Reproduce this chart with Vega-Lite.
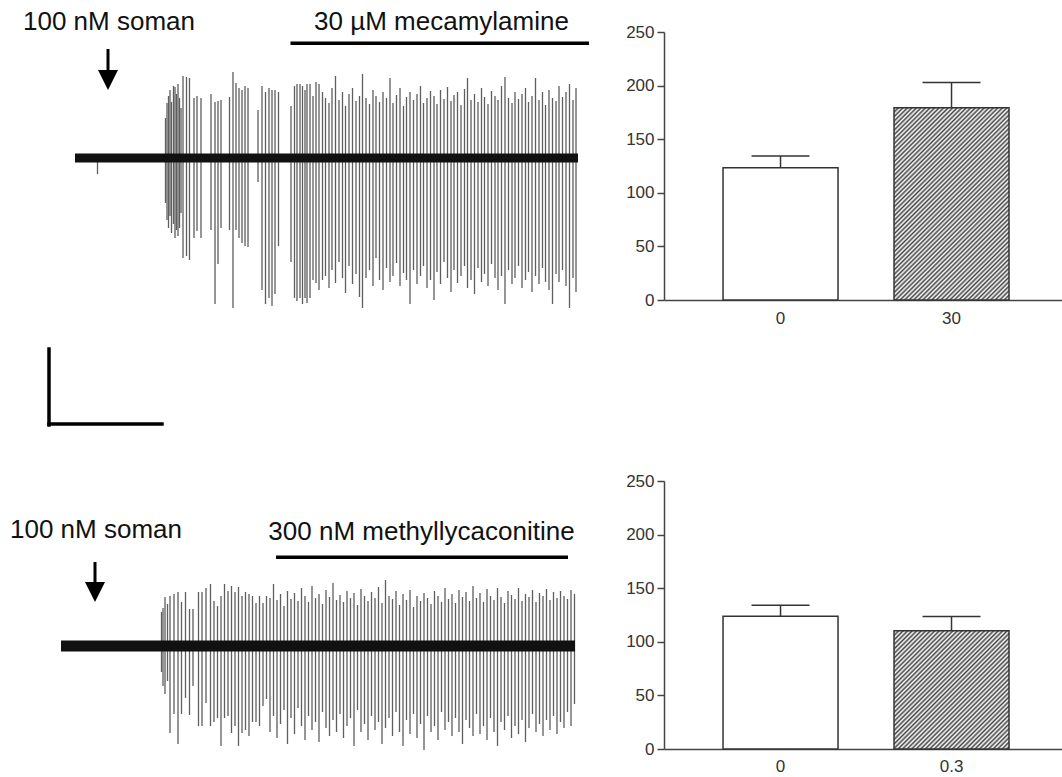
{
"$schema":"https://vega.github.io/schema/vega-lite/v6.json",
"padding":{"left":0,"top":9,"right":0,"bottom":0},
"spacing":20,
"config":{"font":"Liberation Sans","view":{"stroke":null}},
"datasets":{
"trace1":[{"t":4.5,"hi":3,"lo":-16},{"t":18.1,"hi":40,"lo":-45},{"t":18.4,"hi":55,"lo":-62},{"t":18.7,"hi":62,"lo":-70},{"t":19.0,"hi":68,"lo":-58},{"t":19.3,"hi":56,"lo":-75},{"t":19.7,"hi":72,"lo":-66},{"t":20.0,"hi":71,"lo":-80},{"t":20.3,"hi":64,"lo":-72},{"t":20.6,"hi":74,"lo":-78},{"t":20.9,"hi":60,"lo":-70},{"t":21.2,"hi":50,"lo":-55},{"t":21.6,"hi":82,"lo":-100},{"t":22.3,"hi":81,"lo":-98},{"t":22.9,"hi":80,"lo":-102},{"t":23.8,"hi":60,"lo":-80},{"t":24.4,"hi":62,"lo":-73},{"t":25.2,"hi":60,"lo":-80},{"t":27.2,"hi":64,"lo":-72},{"t":28.0,"hi":56,"lo":-146},{"t":28.6,"hi":57,"lo":-106},{"t":29.2,"hi":58,"lo":-70},{"t":30.9,"hi":61,"lo":-72},{"t":31.6,"hi":86,"lo":-150},{"t":32.2,"hi":75,"lo":-72},{"t":32.8,"hi":70,"lo":-80},{"t":33.4,"hi":68,"lo":-85},{"t":34.0,"hi":72,"lo":-88},{"t":34.6,"hi":70,"lo":-89},{"t":36.6,"hi":48,"lo":-24},{"t":37.4,"hi":72,"lo":-132},{"t":38.1,"hi":66,"lo":-146},{"t":38.8,"hi":70,"lo":-140},{"t":39.4,"hi":68,"lo":-148},{"t":40.0,"hi":68,"lo":-136},{"t":40.7,"hi":66,"lo":-88},{"t":43.2,"hi":52,"lo":-104},{"t":43.9,"hi":72,"lo":-140},{"t":44.4,"hi":74,"lo":-143},{"t":45.0,"hi":74,"lo":-140},{"t":45.5,"hi":72,"lo":-146},{"t":46.0,"hi":68,"lo":-140},{"t":46.4,"hi":74,"lo":-145},{"t":47.0,"hi":74,"lo":-140},{"t":47.6,"hi":62,"lo":-122},{"t":48.2,"hi":76,"lo":-125},{"t":48.8,"hi":74,"lo":-132},{"t":49.5,"hi":66,"lo":-122},
{"t":50.1,"hi":60,"lo":-118},{"t":50.8,"hi":55,"lo":-130},{"t":51.4,"hi":70,"lo":-112},{"t":52.1,"hi":82,"lo":-125},{"t":52.8,"hi":58,"lo":-104},{"t":53.5,"hi":66,"lo":-120},{"t":54.1,"hi":52,"lo":-135},{"t":54.8,"hi":64,"lo":-108},{"t":55.5,"hi":70,"lo":-126},{"t":56.2,"hi":57,"lo":-116},{"t":56.9,"hi":62,"lo":-139},{"t":57.5,"hi":84,"lo":-150},{"t":58.2,"hi":60,"lo":-120},{"t":58.9,"hi":54,"lo":-112},{"t":59.6,"hi":68,"lo":-128},{"t":60.2,"hi":62,"lo":-100},{"t":60.9,"hi":56,"lo":-122},{"t":61.6,"hi":66,"lo":-132},{"t":62.3,"hi":60,"lo":-110},{"t":63.0,"hi":80,"lo":-124},{"t":63.6,"hi":55,"lo":-118},{"t":64.3,"hi":63,"lo":-105},{"t":65.0,"hi":70,"lo":-128},{"t":65.7,"hi":52,"lo":-115},{"t":66.3,"hi":61,"lo":-122},{"t":67.0,"hi":66,"lo":-146},{"t":67.7,"hi":58,"lo":-112},{"t":68.4,"hi":64,"lo":-126},{"t":69.1,"hi":72,"lo":-118},{"t":69.7,"hi":55,"lo":-108},{"t":70.4,"hi":60,"lo":-130},{"t":71.1,"hi":67,"lo":-122},{"t":71.8,"hi":62,"lo":-142},{"t":72.4,"hi":54,"lo":-114},{"t":73.1,"hi":68,"lo":-126},{"t":73.8,"hi":59,"lo":-104},{"t":74.5,"hi":71,"lo":-120},{"t":75.2,"hi":57,"lo":-134},{"t":75.8,"hi":63,"lo":-112},{"t":76.5,"hi":66,"lo":-125},{"t":77.2,"hi":53,"lo":-118},{"t":77.9,"hi":69,"lo":-108},{"t":78.5,"hi":80,"lo":-130},{"t":79.2,"hi":58,"lo":-122},{"t":79.9,"hi":64,"lo":-136},{"t":80.6,"hi":56,"lo":-110},{"t":81.3,"hi":70,"lo":-124},{"t":81.9,"hi":61,"lo":-116},{"t":82.6,"hi":54,"lo":-128},{"t":83.3,"hi":67,"lo":-106},{"t":84.0,"hi":62,"lo":-120},{"t":84.6,"hi":58,"lo":-132},{"t":85.3,"hi":72,"lo":-118},{"t":86.0,"hi":81,"lo":-146},{"t":86.7,"hi":60,"lo":-112},{"t":87.4,"hi":55,"lo":-126},{"t":88.0,"hi":66,"lo":-120},{"t":88.7,"hi":59,"lo":-108},{"t":89.4,"hi":64,"lo":-130},{"t":90.1,"hi":70,"lo":-122},{"t":90.7,"hi":56,"lo":-114},{"t":91.4,"hi":62,"lo":-134},{"t":92.1,"hi":80,"lo":-118},{"t":92.8,"hi":58,"lo":-126},{"t":93.5,"hi":66,"lo":-110},{"t":94.1,"hi":53,"lo":-124},{"t":94.8,"hi":68,"lo":-132},{"t":95.5,"hi":60,"lo":-146},{"t":96.2,"hi":57,"lo":-116},{"t":96.8,"hi":72,"lo":-124},{"t":97.5,"hi":61,"lo":-112},{"t":98.2,"hi":66,"lo":-128},{"t":98.9,"hi":74,"lo":-150},{"t":99.6,"hi":58,"lo":-120},{"t":100.2,"hi":70,"lo":-134}],
"trace2":[{"t":20.3,"hi":34,"lo":-26},{"t":20.6,"hi":38,"lo":-40},{"t":21.0,"hi":49,"lo":-48},{"t":21.5,"hi":42,"lo":-35},{"t":22.0,"hi":50,"lo":-87},{"t":22.8,"hi":52,"lo":-68},{"t":23.6,"hi":54,"lo":-98},{"t":24.3,"hi":44,"lo":-68},{"t":25.1,"hi":54,"lo":-52},{"t":25.9,"hi":37,"lo":-69},{"t":26.6,"hi":37,"lo":-40},{"t":27.7,"hi":54,"lo":-80},{"t":28.4,"hi":54,"lo":-80},{"t":29.2,"hi":58,"lo":-57},{"t":30.1,"hi":62,"lo":-80},{"t":30.8,"hi":45,"lo":-76},{"t":31.5,"hi":40,"lo":-72},{"t":32.2,"hi":50,"lo":-100},{"t":32.9,"hi":62,"lo":-72},{"t":33.6,"hi":55,"lo":-70},{"t":34.3,"hi":60,"lo":-87},{"t":35.0,"hi":54,"lo":-80},{"t":35.7,"hi":59,"lo":-100},{"t":36.4,"hi":50,"lo":-87},{"t":37.1,"hi":54,"lo":-84},{"t":37.8,"hi":52,"lo":-90},{"t":38.5,"hi":50,"lo":-76},{"t":39.2,"hi":43,"lo":-76},{"t":39.9,"hi":50,"lo":-80},{"t":40.6,"hi":43,"lo":-60},{"t":41.3,"hi":50,"lo":-53},{"t":42.0,"hi":48,"lo":-86},{"t":42.7,"hi":62,"lo":-70},{"t":43.4,"hi":46,"lo":-92},{"t":44.1,"hi":52,"lo":-78},{"t":44.8,"hi":40,"lo":-64},{"t":45.5,"hi":55,"lo":-98},{"t":46.2,"hi":47,"lo":-72},{"t":46.9,"hi":53,"lo":-88},{"t":47.6,"hi":45,"lo":-62},{"t":48.3,"hi":58,"lo":-80},{"t":49.0,"hi":50,"lo":-94},{"t":49.7,"hi":44,"lo":-70},{"t":50.4,"hi":60,"lo":-84},{"t":51.1,"hi":48,"lo":-76},{"t":51.8,"hi":52,"lo":-96},{"t":52.5,"hi":42,"lo":-66},{"t":53.2,"hi":56,"lo":-82},{"t":53.9,"hi":49,"lo":-90},{"t":54.6,"hi":63,"lo":-74},{"t":55.3,"hi":46,"lo":-86},{"t":56.0,"hi":51,"lo":-68},{"t":56.7,"hi":44,"lo":-92},{"t":57.4,"hi":55,"lo":-80},{"t":58.1,"hi":48,"lo":-72},{"t":58.8,"hi":53,"lo":-100},{"t":59.5,"hi":41,"lo":-64},{"t":60.2,"hi":57,"lo":-86},{"t":60.9,"hi":50,"lo":-78},{"t":61.6,"hi":45,"lo":-94},{"t":62.3,"hi":54,"lo":-70},{"t":63.0,"hi":48,"lo":-84},{"t":63.7,"hi":59,"lo":-76},{"t":64.4,"hi":43,"lo":-98},{"t":65.1,"hi":66,"lo":-82},{"t":65.8,"hi":50,"lo":-72},{"t":66.5,"hi":47,"lo":-90},{"t":67.2,"hi":55,"lo":-66},{"t":67.9,"hi":41,"lo":-86},{"t":68.6,"hi":52,"lo":-100},{"t":69.3,"hi":46,"lo":-74},{"t":70.0,"hi":56,"lo":-88},{"t":70.7,"hi":39,"lo":-68},{"t":71.4,"hi":50,"lo":-92},{"t":72.1,"hi":45,"lo":-78},{"t":72.8,"hi":53,"lo":-104},{"t":73.5,"hi":48,"lo":-70},{"t":74.2,"hi":42,"lo":-86},{"t":74.9,"hi":55,"lo":-80},{"t":75.6,"hi":50,"lo":-94},{"t":76.3,"hi":44,"lo":-66},{"t":77.0,"hi":58,"lo":-84},{"t":77.7,"hi":47,"lo":-76},{"t":78.4,"hi":52,"lo":-90},{"t":79.1,"hi":43,"lo":-72},{"t":79.8,"hi":56,"lo":-86},{"t":80.5,"hi":49,"lo":-98},{"t":81.2,"hi":54,"lo":-74},{"t":81.9,"hi":45,"lo":-82},{"t":82.6,"hi":60,"lo":-90},{"t":83.3,"hi":48,"lo":-68},{"t":84.0,"hi":53,"lo":-88},{"t":84.7,"hi":44,"lo":-80},{"t":85.4,"hi":57,"lo":-94},{"t":86.1,"hi":50,"lo":-72},{"t":86.8,"hi":46,"lo":-86},{"t":87.5,"hi":58,"lo":-100},{"t":88.2,"hi":49,"lo":-76},{"t":88.9,"hi":43,"lo":-84},{"t":89.6,"hi":55,"lo":-70},{"t":90.3,"hi":51,"lo":-92},{"t":91.0,"hi":47,"lo":-80},{"t":91.7,"hi":58,"lo":-88},{"t":92.4,"hi":45,"lo":-74},{"t":93.1,"hi":52,"lo":-96},{"t":93.8,"hi":49,"lo":-82},{"t":94.5,"hi":56,"lo":-68},{"t":95.2,"hi":44,"lo":-86},{"t":95.9,"hi":53,"lo":-78},{"t":96.6,"hi":50,"lo":-90},{"t":97.3,"hi":57,"lo":-74},{"t":98.0,"hi":46,"lo":-84},{"t":98.7,"hi":54,"lo":-70},{"t":99.4,"hi":48,"lo":-88},{"t":100.1,"hi":55,"lo":-76},{"t":100.8,"hi":50,"lo":-82},{"t":101.5,"hi":47,"lo":-66},{"t":102.2,"hi":56,"lo":-80},{"t":102.9,"hi":52,"lo":-58}],
"base1":[{"start":0,"end":100.6,"amp":0}],
"base2":[{"start":0.2,"end":103.0,"amp":0}],
"drug1":[{"start":43.1,"end":102.8,"amp":114.7}],
"drug2":[{"start":43.2,"end":101.6,"amp":88.7}],
"labels1":[{"t":6.8,"amp":128,"label":"100 nM soman"},{"t":73.3,"amp":128,"label":"30 µM mecamylamine"}],
"labels2":[{"t":7.2,"amp":108,"label":"100 nM soman"},{"t":72.3,"amp":106,"label":"300 nM methyllycaconitine"}],
"arrow1":[{"t":6.6,"top":109,"bottom":86,"head":78}],
"arrow2":[{"t":7.0,"top":84,"bottom":62,"head":54}],
"scalebar":[{"t":-2.2,"t2":-2.2,"amp":297,"amp2":221},{"t":-2.2,"t2":20.4,"amp":222,"amp2":222}],
"bars1":[{"dose":"0","mean":123.4,"upper":134.3,"hatched":false},{"dose":"30","mean":179.4,"upper":203,"hatched":true}],
"bars2":[{"dose":"0","mean":123.9,"upper":134.2,"hatched":false},{"dose":"0.3","mean":110.2,"upper":123.6,"hatched":true}]
},
"vconcat":[
{"spacing":25,"hconcat":[
{"width":600,"height":288,
"layer":[
{"data":{"name":"trace1"},"mark":{"type":"rule","color":"#5e5e5e","strokeWidth":1.3},
"encoding":{"x":{"field":"t","type":"quantitative","scale":{"domain":[-15,105],"nice":false,"zero":false},"axis":null},"y":{"field":"hi","type":"quantitative","scale":{"domain":[-162,126],"nice":false,"zero":false},"axis":null},"y2":{"field":"lo"}}},
{"data":{"name":"base1"},"mark":{"type":"rule","color":"#111","strokeWidth":9},
"encoding":{"x":{"field":"start","type":"quantitative","axis":null},"x2":{"field":"end"},"y":{"field":"amp","type":"quantitative","axis":null}}},
{"data":{"name":"drug1"},"mark":{"type":"rule","color":"#000","strokeWidth":3.5},
"encoding":{"x":{"field":"start","type":"quantitative","axis":null},"x2":{"field":"end"},"y":{"field":"amp","type":"quantitative","axis":null}}},
{"data":{"name":"arrow1"},"mark":{"type":"rule","color":"#000","strokeWidth":3},
"encoding":{"x":{"field":"t","type":"quantitative","axis":null},"y":{"field":"top","type":"quantitative","axis":null},"y2":{"field":"bottom"}}},
{"data":{"name":"arrow1"},"mark":{"type":"point","shape":"M-1,-1L1,-1L0,1Z","filled":true,"size":400,"color":"#000","opacity":1},
"encoding":{"x":{"field":"t","type":"quantitative","axis":null},"y":{"field":"head","type":"quantitative","axis":null}}},
{"data":{"name":"labels1"},"mark":{"type":"text","fontSize":26,"baseline":"alphabetic","align":"center","color":"#111","font":"Liberation Sans"},
"encoding":{"x":{"field":"t","type":"quantitative","axis":null},"y":{"field":"amp","type":"quantitative","axis":null},"text":{"field":"label"}}}
]},
{"width":398,"height":268,"data":{"name":"bars1"},
"layer":[
{"transform":[{"filter":"!datum.hatched"}],"mark":{"type":"bar","fill":"#ffffff","stroke":"#333","strokeWidth":1.5},
"encoding":{"x":{"field":"dose","type":"ordinal","scale":{"domain":["0","30"],"paddingInner":0.3275,"paddingOuter":0.3275,"align":0.527},"axis":{"title":null,"labelAngle":0,"ticks":false,"domainColor":"#444","domainWidth":1.5,"labelFontSize":17,"labelColor":"#333","labelPadding":10}},
"y":{"field":"mean","type":"quantitative","scale":{"domain":[0,250],"nice":false},"axis":{"title":null,"values":[0,50,100,150,200,250],"grid":false,"domainColor":"#444","domainWidth":1.5,"tickColor":"#444","tickWidth":1.5,"tickSize":7,"labelFontSize":17,"labelColor":"#333","labelPadding":3}}}},
{"transform":[{"filter":"datum.hatched"}],"mark":{"type":"bar","stroke":"#333","strokeWidth":1.5,"fill":{"gradient":"linear","x1":0,"y1":0,"x2":1.031,"y2":1.73,"stops":[{"offset":0,"color":"#444"},{"offset":0.005,"color":"#fff"},{"offset":0.01,"color":"#444"},{"offset":0.015,"color":"#fff"},{"offset":0.02,"color":"#444"},{"offset":0.025,"color":"#fff"},{"offset":0.03,"color":"#444"},{"offset":0.035,"color":"#fff"},{"offset":0.04,"color":"#444"},{"offset":0.045,"color":"#fff"},{"offset":0.05,"color":"#444"},{"offset":0.055,"color":"#fff"},{"offset":0.06,"color":"#444"},{"offset":0.065,"color":"#fff"},{"offset":0.07,"color":"#444"},{"offset":0.075,"color":"#fff"},{"offset":0.08,"color":"#444"},{"offset":0.085,"color":"#fff"},{"offset":0.09,"color":"#444"},{"offset":0.095,"color":"#fff"},{"offset":0.1,"color":"#444"},{"offset":0.105,"color":"#fff"},{"offset":0.11,"color":"#444"},{"offset":0.115,"color":"#fff"},{"offset":0.12,"color":"#444"},{"offset":0.125,"color":"#fff"},{"offset":0.13,"color":"#444"},{"offset":0.135,"color":"#fff"},{"offset":0.14,"color":"#444"},{"offset":0.145,"color":"#fff"},{"offset":0.15,"color":"#444"},{"offset":0.155,"color":"#fff"},{"offset":0.16,"color":"#444"},{"offset":0.165,"color":"#fff"},{"offset":0.17,"color":"#444"},{"offset":0.175,"color":"#fff"},{"offset":0.18,"color":"#444"},{"offset":0.185,"color":"#fff"},{"offset":0.19,"color":"#444"},{"offset":0.195,"color":"#fff"},{"offset":0.2,"color":"#444"},{"offset":0.205,"color":"#fff"},{"offset":0.21,"color":"#444"},{"offset":0.215,"color":"#fff"},{"offset":0.22,"color":"#444"},{"offset":0.225,"color":"#fff"},{"offset":0.23,"color":"#444"},{"offset":0.235,"color":"#fff"},{"offset":0.24,"color":"#444"},{"offset":0.245,"color":"#fff"},{"offset":0.25,"color":"#444"},{"offset":0.255,"color":"#fff"},{"offset":0.26,"color":"#444"},{"offset":0.265,"color":"#fff"},{"offset":0.27,"color":"#444"},{"offset":0.275,"color":"#fff"},{"offset":0.28,"color":"#444"},{"offset":0.285,"color":"#fff"},{"offset":0.29,"color":"#444"},{"offset":0.295,"color":"#fff"},{"offset":0.3,"color":"#444"},{"offset":0.305,"color":"#fff"},{"offset":0.31,"color":"#444"},{"offset":0.315,"color":"#fff"},{"offset":0.32,"color":"#444"},{"offset":0.325,"color":"#fff"},{"offset":0.33,"color":"#444"},{"offset":0.335,"color":"#fff"},{"offset":0.34,"color":"#444"},{"offset":0.345,"color":"#fff"},{"offset":0.35,"color":"#444"},{"offset":0.355,"color":"#fff"},{"offset":0.36,"color":"#444"},{"offset":0.365,"color":"#fff"},{"offset":0.37,"color":"#444"},{"offset":0.375,"color":"#fff"},{"offset":0.38,"color":"#444"},{"offset":0.385,"color":"#fff"},{"offset":0.39,"color":"#444"},{"offset":0.395,"color":"#fff"},{"offset":0.4,"color":"#444"},{"offset":0.405,"color":"#fff"},{"offset":0.41,"color":"#444"},{"offset":0.415,"color":"#fff"},{"offset":0.42,"color":"#444"},{"offset":0.425,"color":"#fff"},{"offset":0.43,"color":"#444"},{"offset":0.435,"color":"#fff"},{"offset":0.44,"color":"#444"},{"offset":0.445,"color":"#fff"},{"offset":0.45,"color":"#444"},{"offset":0.455,"color":"#fff"},{"offset":0.46,"color":"#444"},{"offset":0.465,"color":"#fff"},{"offset":0.47,"color":"#444"},{"offset":0.475,"color":"#fff"},{"offset":0.48,"color":"#444"},{"offset":0.485,"color":"#fff"},{"offset":0.49,"color":"#444"},{"offset":0.495,"color":"#fff"},{"offset":0.5,"color":"#444"},{"offset":0.505,"color":"#fff"},{"offset":0.51,"color":"#444"},{"offset":0.515,"color":"#fff"},{"offset":0.52,"color":"#444"},{"offset":0.525,"color":"#fff"},{"offset":0.53,"color":"#444"},{"offset":0.535,"color":"#fff"},{"offset":0.54,"color":"#444"},{"offset":0.545,"color":"#fff"},{"offset":0.55,"color":"#444"},{"offset":0.555,"color":"#fff"},{"offset":0.56,"color":"#444"},{"offset":0.565,"color":"#fff"},{"offset":0.57,"color":"#444"},{"offset":0.575,"color":"#fff"},{"offset":0.58,"color":"#444"},{"offset":0.585,"color":"#fff"},{"offset":0.59,"color":"#444"},{"offset":0.595,"color":"#fff"},{"offset":0.6,"color":"#444"},{"offset":0.605,"color":"#fff"},{"offset":0.61,"color":"#444"},{"offset":0.615,"color":"#fff"},{"offset":0.62,"color":"#444"},{"offset":0.625,"color":"#fff"},{"offset":0.63,"color":"#444"},{"offset":0.635,"color":"#fff"},{"offset":0.64,"color":"#444"},{"offset":0.645,"color":"#fff"},{"offset":0.65,"color":"#444"},{"offset":0.655,"color":"#fff"},{"offset":0.66,"color":"#444"},{"offset":0.665,"color":"#fff"},{"offset":0.67,"color":"#444"},{"offset":0.675,"color":"#fff"},{"offset":0.68,"color":"#444"},{"offset":0.685,"color":"#fff"},{"offset":0.69,"color":"#444"}]}},
"encoding":{"x":{"field":"dose","type":"ordinal"},"y":{"field":"mean","type":"quantitative"}}},
{"mark":{"type":"rule","color":"#333","strokeWidth":1.5},
"encoding":{"x":{"field":"dose","type":"ordinal"},"y":{"field":"mean","type":"quantitative"},"y2":{"field":"upper"}}},
{"mark":{"type":"tick","color":"#333","size":58,"thickness":1.5,"opacity":1},
"encoding":{"x":{"field":"dose","type":"ordinal"},"y":{"field":"upper","type":"quantitative"}}}
]}
]},
{"spacing":25,"hconcat":[
{"width":600,"height":290,
"layer":[
{"data":{"name":"trace2"},"mark":{"type":"rule","color":"#5e5e5e","strokeWidth":1.3},
"encoding":{"x":{"field":"t","type":"quantitative","scale":{"domain":[-12,108],"nice":false,"zero":false},"axis":null},"y":{"field":"hi","type":"quantitative","scale":{"domain":[-125,165],"nice":false,"zero":false},"axis":null},"y2":{"field":"lo"}}},
{"data":{"name":"base2"},"mark":{"type":"rule","color":"#111","strokeWidth":11},
"encoding":{"x":{"field":"start","type":"quantitative","axis":null},"x2":{"field":"end"},"y":{"field":"amp","type":"quantitative","axis":null}}},
{"data":{"name":"drug2"},"mark":{"type":"rule","color":"#000","strokeWidth":3.5},
"encoding":{"x":{"field":"start","type":"quantitative","axis":null},"x2":{"field":"end"},"y":{"field":"amp","type":"quantitative","axis":null}}},
{"data":{"name":"scalebar"},"mark":{"type":"rule","color":"#000","strokeWidth":3.5,"strokeCap":"square"},
"encoding":{"x":{"field":"t","type":"quantitative","axis":null},"x2":{"field":"t2"},"y":{"field":"amp","type":"quantitative","axis":null},"y2":{"field":"amp2"}}},
{"data":{"name":"arrow2"},"mark":{"type":"rule","color":"#000","strokeWidth":3},
"encoding":{"x":{"field":"t","type":"quantitative","axis":null},"y":{"field":"top","type":"quantitative","axis":null},"y2":{"field":"bottom"}}},
{"data":{"name":"arrow2"},"mark":{"type":"point","shape":"M-1,-1L1,-1L0,1Z","filled":true,"size":400,"color":"#000","opacity":1},
"encoding":{"x":{"field":"t","type":"quantitative","axis":null},"y":{"field":"head","type":"quantitative","axis":null}}},
{"data":{"name":"labels2"},"mark":{"type":"text","fontSize":26,"baseline":"alphabetic","align":"center","color":"#111","font":"Liberation Sans"},
"encoding":{"x":{"field":"t","type":"quantitative","axis":null},"y":{"field":"amp","type":"quantitative","axis":null},"text":{"field":"label"}}}
]},
{"width":398,"height":268,"data":{"name":"bars2"},
"layer":[
{"transform":[{"filter":"!datum.hatched"}],"mark":{"type":"bar","fill":"#ffffff","stroke":"#333","strokeWidth":1.5},
"encoding":{"x":{"field":"dose","type":"ordinal","scale":{"domain":["0","0.3"],"paddingInner":0.3275,"paddingOuter":0.3275,"align":0.527},"axis":{"title":null,"labelAngle":0,"ticks":false,"domainColor":"#444","domainWidth":1.5,"labelFontSize":17,"labelColor":"#333","labelPadding":9}},
"y":{"field":"mean","type":"quantitative","scale":{"domain":[0,250],"nice":false},"axis":{"title":null,"values":[0,50,100,150,200,250],"grid":false,"domainColor":"#444","domainWidth":1.5,"tickColor":"#444","tickWidth":1.5,"tickSize":7,"labelFontSize":17,"labelColor":"#333","labelPadding":3}}}},
{"transform":[{"filter":"datum.hatched"}],"mark":{"type":"bar","stroke":"#333","strokeWidth":1.5,"fill":{"gradient":"linear","x1":0,"y1":0,"x2":1.915,"y2":1.967,"stops":[{"offset":0,"color":"#444"},{"offset":0.005,"color":"#fff"},{"offset":0.01,"color":"#444"},{"offset":0.015,"color":"#fff"},{"offset":0.02,"color":"#444"},{"offset":0.025,"color":"#fff"},{"offset":0.03,"color":"#444"},{"offset":0.035,"color":"#fff"},{"offset":0.04,"color":"#444"},{"offset":0.045,"color":"#fff"},{"offset":0.05,"color":"#444"},{"offset":0.055,"color":"#fff"},{"offset":0.06,"color":"#444"},{"offset":0.065,"color":"#fff"},{"offset":0.07,"color":"#444"},{"offset":0.075,"color":"#fff"},{"offset":0.08,"color":"#444"},{"offset":0.085,"color":"#fff"},{"offset":0.09,"color":"#444"},{"offset":0.095,"color":"#fff"},{"offset":0.1,"color":"#444"},{"offset":0.105,"color":"#fff"},{"offset":0.11,"color":"#444"},{"offset":0.115,"color":"#fff"},{"offset":0.12,"color":"#444"},{"offset":0.125,"color":"#fff"},{"offset":0.13,"color":"#444"},{"offset":0.135,"color":"#fff"},{"offset":0.14,"color":"#444"},{"offset":0.145,"color":"#fff"},{"offset":0.15,"color":"#444"},{"offset":0.155,"color":"#fff"},{"offset":0.16,"color":"#444"},{"offset":0.165,"color":"#fff"},{"offset":0.17,"color":"#444"},{"offset":0.175,"color":"#fff"},{"offset":0.18,"color":"#444"},{"offset":0.185,"color":"#fff"},{"offset":0.19,"color":"#444"},{"offset":0.195,"color":"#fff"},{"offset":0.2,"color":"#444"},{"offset":0.205,"color":"#fff"},{"offset":0.21,"color":"#444"},{"offset":0.215,"color":"#fff"},{"offset":0.22,"color":"#444"},{"offset":0.225,"color":"#fff"},{"offset":0.23,"color":"#444"},{"offset":0.235,"color":"#fff"},{"offset":0.24,"color":"#444"},{"offset":0.245,"color":"#fff"},{"offset":0.25,"color":"#444"},{"offset":0.255,"color":"#fff"},{"offset":0.26,"color":"#444"},{"offset":0.265,"color":"#fff"},{"offset":0.27,"color":"#444"},{"offset":0.275,"color":"#fff"},{"offset":0.28,"color":"#444"},{"offset":0.285,"color":"#fff"},{"offset":0.29,"color":"#444"},{"offset":0.295,"color":"#fff"},{"offset":0.3,"color":"#444"},{"offset":0.305,"color":"#fff"},{"offset":0.31,"color":"#444"},{"offset":0.315,"color":"#fff"},{"offset":0.32,"color":"#444"},{"offset":0.325,"color":"#fff"},{"offset":0.33,"color":"#444"},{"offset":0.335,"color":"#fff"},{"offset":0.34,"color":"#444"},{"offset":0.345,"color":"#fff"},{"offset":0.35,"color":"#444"},{"offset":0.355,"color":"#fff"},{"offset":0.36,"color":"#444"},{"offset":0.365,"color":"#fff"},{"offset":0.37,"color":"#444"},{"offset":0.375,"color":"#fff"},{"offset":0.38,"color":"#444"},{"offset":0.385,"color":"#fff"},{"offset":0.39,"color":"#444"},{"offset":0.395,"color":"#fff"},{"offset":0.4,"color":"#444"},{"offset":0.405,"color":"#fff"},{"offset":0.41,"color":"#444"},{"offset":0.415,"color":"#fff"},{"offset":0.42,"color":"#444"},{"offset":0.425,"color":"#fff"},{"offset":0.43,"color":"#444"},{"offset":0.435,"color":"#fff"},{"offset":0.44,"color":"#444"},{"offset":0.445,"color":"#fff"},{"offset":0.45,"color":"#444"},{"offset":0.455,"color":"#fff"},{"offset":0.46,"color":"#444"},{"offset":0.465,"color":"#fff"},{"offset":0.47,"color":"#444"},{"offset":0.475,"color":"#fff"},{"offset":0.48,"color":"#444"},{"offset":0.485,"color":"#fff"},{"offset":0.49,"color":"#444"},{"offset":0.495,"color":"#fff"},{"offset":0.5,"color":"#444"},{"offset":0.505,"color":"#fff"},{"offset":0.51,"color":"#444"},{"offset":0.515,"color":"#fff"},{"offset":0.52,"color":"#444"},{"offset":0.525,"color":"#fff"},{"offset":0.53,"color":"#444"}]}},
"encoding":{"x":{"field":"dose","type":"ordinal"},"y":{"field":"mean","type":"quantitative"}}},
{"mark":{"type":"rule","color":"#333","strokeWidth":1.5},
"encoding":{"x":{"field":"dose","type":"ordinal"},"y":{"field":"mean","type":"quantitative"},"y2":{"field":"upper"}}},
{"mark":{"type":"tick","color":"#333","size":58,"thickness":1.5,"opacity":1},
"encoding":{"x":{"field":"dose","type":"ordinal"},"y":{"field":"upper","type":"quantitative"}}}
]}
]}
]
}
